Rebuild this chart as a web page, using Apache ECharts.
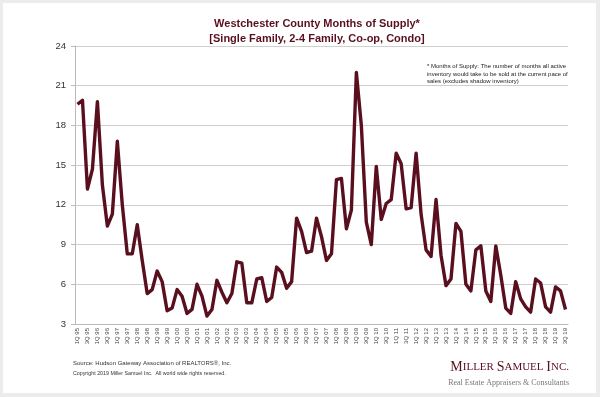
<!DOCTYPE html>
<html>
<head>
<meta charset="utf-8">
<script src="https://cdn.jsdelivr.net/npm/echarts@6/dist/echarts.min.js"></script>
<style>
  html, body { margin: 0; padding: 0; background: #ececec; }
  #chart { width: 600px; height: 397px; }
</style>
</head>
<body>
<div id="chart"></div>
<script>
// quarters 1Q95 .. 3Q19
const quarters = []
for (let y = 1995; y <= 2019; y++) {
  for (let q = 1; q <= 4; q++) {
    if (y === 2019 && q > 3) break
    quarters.push(q + 'Q ' + String(y).slice(2))
  }
}

// months of supply
const supply = [
  19.6, 19.9, 13.2, 14.7, 19.8, 13.5, 10.4, 11.3, 16.8, 12.0,
  8.3, 8.3, 10.5, 7.8, 5.3, 5.6, 7.0, 6.2, 4.0, 4.2,
  5.6, 5.1, 3.8, 4.1, 6.0, 5.1, 3.6, 4.1, 6.3, 5.4,
  4.6, 5.3, 7.7, 7.6, 4.6, 4.6, 6.4, 6.5, 4.7, 5.0,
  7.3, 6.9, 5.7, 6.2, 11.0, 10.0, 8.4, 8.5, 11.0, 9.6,
  7.8, 8.3, 13.9, 14.0, 10.2, 11.6, 22.0, 18.0, 10.7, 9.0,
  14.9, 10.9, 12.1, 12.4, 15.9, 15.1, 11.7, 11.8, 15.9, 11.3,
  8.6, 8.1, 12.4, 8.2, 5.9, 6.4, 10.6, 10.0, 6.0, 5.5,
  8.6, 8.9, 5.5, 4.7, 8.9, 6.7, 4.2, 3.8, 6.2, 4.9,
  4.3, 3.9, 6.4, 6.1, 4.3, 3.9, 5.8, 5.5, 4.1
]

const yTicks = [3, 6, 9, 12, 15, 18, 21, 24]

const maroon = '#5a0f1f'
const sans = '"Liberation Sans", Arial, sans-serif'
const serif = '"Liberation Serif", "DejaVu Serif", serif'

const chart = echarts.init(document.getElementById('chart'))
chart.setOption({
  animation: false,
  backgroundColor: '#ececec',
  title: {
    text: 'Westchester County Months of Supply*\n[Single Family, 2-4 Family, Co-op, Condo]',
    left: 312,
    top: 11,
    textAlign: 'center',
    textStyle: {
      color: maroon,
      fontFamily: sans,
      fontSize: 11,
      fontWeight: 'bold',
      lineHeight: 15
    }
  },
  graphic: [
    {
      type: 'rect',
      z: -10,
      shape: { x: 3, y: 3, width: 593, height: 390 },
      style: { fill: '#ffffff' }
    },
    {
      type: 'text',
      left: 427,
      top: 63,
      style: {
        text: '* Months of Supply: The number of months all active\ninventory would take to be sold at the current pace of\nsales (excludes shadow inventory)',
        font: '6px ' + sans,
        fill: '#222',
        lineHeight: 7.5
      }
    },
    {
      type: 'text',
      left: 73,
      top: 360,
      style: {
        text: 'Source: Hudson Gateway Association of REALTORS®, Inc.',
        font: '6px ' + sans,
        fill: '#333'
      }
    },
    {
      type: 'text',
      left: 73,
      top: 371,
      style: {
        text: 'Copyright 2019 Miller Samuel Inc.  All world wide rights reserved.',
        font: '5.3px ' + sans,
        fill: '#333'
      }
    },
    {
      type: 'text',
      right: 31,
      top: 360,
      style: {
        text: '{b|M}{s|ILLER }{b|S}{s|AMUEL }{b|I}{s|NC.}',
        rich: {
          b: { fontFamily: serif, fontSize: 14, fill: maroon, color: maroon },
          s: { fontFamily: serif, fontSize: 11, fill: maroon, color: maroon }
        }
      }
    },
    {
      type: 'text',
      right: 31,
      top: 379,
      style: {
        text: 'Real Estate Appraisers & Consultants',
        font: '8px ' + serif,
        fill: '#777'
      }
    }
  ],
  grid: {
    left: 75,
    right: 32,
    top: 46,
    bottom: 73
  },
  xAxis: {
    type: 'category',
    data: quarters,
    boundaryGap: true,
    axisLine: { lineStyle: { color: '#bbb' } },
    axisTick: { interval: 0, length: 3, lineStyle: { color: '#bbb' } },
    axisLabel: {
      interval: 1,
      rotate: 90,
      fontSize: 6,
      fontFamily: sans,
      color: '#444',
      margin: 4
    }
  },
  yAxis: {
    type: 'value',
    min: 3,
    max: 24,
    interval: 3,
    axisLine: { show: true, lineStyle: { color: '#bbb' } },
    axisTick: { show: true, length: 4, lineStyle: { color: '#bbb' } },
    axisLabel: {
      fontSize: 9.5,
      fontFamily: sans,
      color: '#333',
      margin: 9,
      formatter: v => yTicks.includes(v) ? String(v) : ''
    },
    splitLine: { lineStyle: { color: '#cfcfcf' } }
  },
  series: [
    {
      type: 'line',
      data: supply,
      symbol: 'none',
      lineStyle: { color: maroon, width: 3.4, join: 'round' }
    }
  ]
})
</script>
</body>
</html>
